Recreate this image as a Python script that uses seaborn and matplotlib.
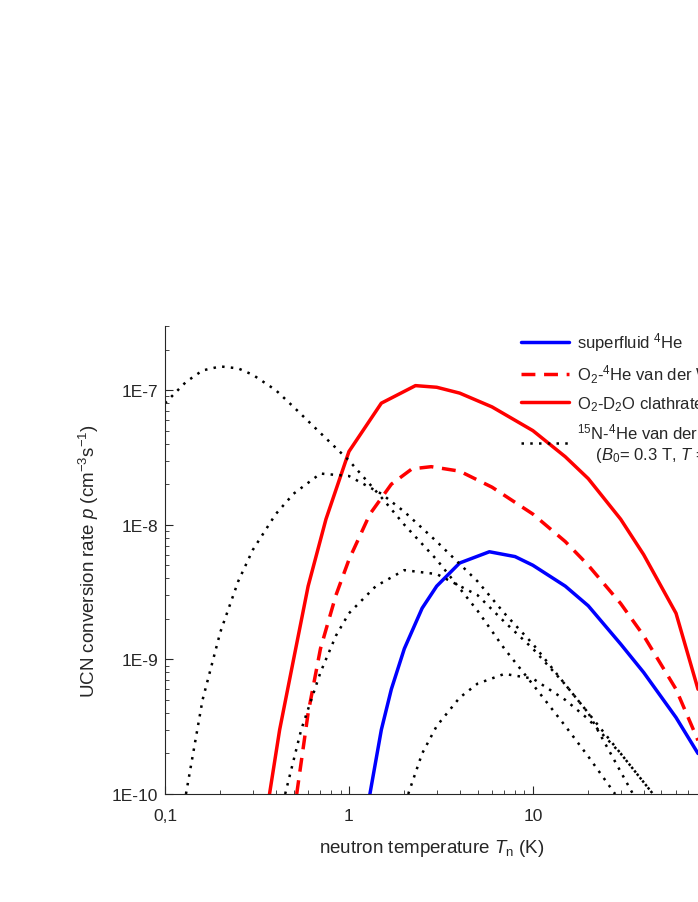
import numpy as np
import matplotlib
matplotlib.use("Agg")
import matplotlib.pyplot as plt
import seaborn as sns

sns.set_style("ticks")
plt.rcParams['font.family'] = ['Liberation Sans', 'DejaVu Sans']
plt.rcParams['mathtext.fontset'] = 'custom'
plt.rcParams['mathtext.rm'] = 'Liberation Sans'
plt.rcParams['mathtext.it'] = 'Liberation Sans:italic'

blue_x = [1.3, 1.5, 1.7, 2.0, 2.5, 3.0, 4.0, 5.8, 8.0, 10, 15, 20, 30, 40, 60, 79]
blue_y = [1e-10, 3e-10, 6e-10, 1.2e-9, 2.4e-9, 3.5e-9, 5.2e-9, 6.3e-9, 5.8e-9, 5e-9, 3.5e-9, 2.5e-9, 1.3e-9, 8e-10, 3.7e-10, 2e-10]
red_x = [0.37, 0.42, 0.5, 0.6, 0.75, 1.0, 1.5, 2.3, 3.0, 4.0, 6.0, 10, 15, 20, 30, 40, 60, 79]
red_y = [1e-10, 3e-10, 1e-9, 3.5e-9, 1.1e-8, 3.5e-8, 8e-8, 1.08e-7, 1.05e-7, 9.5e-8, 7.5e-8, 5e-8, 3.2e-8, 2.2e-8, 1.1e-8, 6e-9, 2.2e-9, 6e-10]
dash_x = [0.52, 0.6, 0.7, 0.85, 1.0, 1.3, 1.7, 2.2, 2.8, 4.0, 6.0, 10, 15, 20, 30, 40, 60, 79]
dash_y = [1e-10, 4e-10, 1.2e-9, 3e-9, 5.5e-9, 1.2e-8, 2e-8, 2.6e-8, 2.7e-8, 2.5e-8, 1.9e-8, 1.2e-8, 7.5e-9, 5e-9, 2.6e-9, 1.5e-9, 6e-10, 2.5e-10]
d1_x = [0.1, 0.13, 0.16, 0.2, 0.25, 0.3, 0.4, 0.5, 0.7, 1.0, 1.5, 2.0, 3.0, 5.0, 7.0, 10, 15, 20, 28]
d1_y = [8e-8, 1.15e-7, 1.4e-7, 1.5e-7, 1.45e-7, 1.3e-7, 1e-7, 7.5e-8, 4.8e-8, 3e-8, 1.6e-8, 1e-8, 5.5e-9, 2.3e-9, 1.2e-9, 6.5e-10, 3.2e-10, 1.9e-10, 1e-10]
d2_x = [0.13, 0.16, 0.2, 0.25, 0.3, 0.4, 0.5, 0.7, 1.0, 1.5, 2.0, 3.0, 5.0, 7.0, 10, 15, 20, 35]
d2_y = [1e-10, 5e-10, 1.6e-9, 3.8e-9, 6.5e-9, 1.2e-8, 1.7e-8, 2.4e-8, 2.3e-8, 1.7e-8, 1.25e-8, 7.5e-9, 3.8e-9, 2.2e-9, 1.3e-9, 6.5e-10, 4e-10, 1e-10]
d3_x = [0.45, 0.55, 0.7, 0.85, 1.0, 1.4, 2.0, 3.0, 5.0, 7.0, 10, 15, 20, 30, 45]
d3_y = [1e-10, 3e-10, 8e-10, 1.5e-9, 2.2e-9, 3.5e-9, 4.6e-9, 4.3e-9, 3e-9, 1.9e-9, 1.2e-9, 6.5e-10, 4e-10, 2e-10, 1e-10]
d4_x = [2.1, 2.5, 3.0, 4.0, 5.0, 7.0, 10, 15, 20, 30, 45]
d4_y = [1e-10, 2e-10, 3.2e-10, 5.2e-10, 6.6e-10, 7.8e-10, 7.2e-10, 5e-10, 3.6e-10, 2e-10, 1e-10]

labels = ["superfluid $^4$He", "O$_2$-$^4$He van der Waals", "O$_2$-D$_2$O clathrate",
          "$^{15}$N-$^4$He van der Waals\n    ($B_0$= 0.3 T, $T$ = 1 K)"]

fig = plt.figure(figsize=(6.98, 9.03), dpi=100)
ax = fig.add_axes([0.2364, 0.1196, 0.7636, 0.5184])
sns.lineplot(x=blue_x, y=blue_y, ax=ax, color="#0000ff", lw=2.5, label=labels[0])
sns.lineplot(x=dash_x, y=dash_y, ax=ax, color="#ff0000", lw=2.5, ls=(0, (4, 2.5)), label=labels[1])
sns.lineplot(x=red_x, y=red_y, ax=ax, color="#ff0000", lw=2.5, label=labels[2])
for i, (xs, ys) in enumerate([(d1_x, d1_y), (d2_x, d2_y), (d3_x, d3_y), (d4_x, d4_y)]):
    sns.lineplot(x=xs, y=ys, ax=ax, color="black", lw=1.8, ls=(0, (1, 2.5)),
                 label=labels[3] if i == 0 else None)
ax.set_xscale("log"); ax.set_yscale("log")
ax.set_xlim(0.1, 79); ax.set_ylim(1e-10, 3e-7)
ax.set_xticks([0.1, 1, 10]); ax.set_xticklabels(["0,1", "1", "10"])
ax.set_yticks([1e-10, 1e-9, 1e-8, 1e-7]); ax.set_yticklabels(["1E-10", "1E-9", "1E-8", "1E-7"])
ax.tick_params(which="both", direction="in", labelsize=12.5)
ax.tick_params(which="major", length=6)
ax.tick_params(which="minor", length=3)
ax.tick_params(axis="x", which="major", pad=10)
ax.tick_params(axis="y", which="major", pad=5)
for s in ["top", "right"]:
    ax.spines[s].set_visible(False)
ax.set_xlabel("neutron temperature $T_\\mathrm{n}$ (K)", fontsize=13.5, labelpad=10)
ax.set_ylabel("UCN conversion rate $p$ (cm$^{-3}$s$^{-1}$)", fontsize=13.5, labelpad=8)
ax.legend(loc="upper left", bbox_to_anchor=(0.655, 1.005), frameon=False, fontsize=12,
          handlelength=2.9, handletextpad=0.5, labelspacing=0.55, borderaxespad=0)
fig.savefig("out.png", dpi=100)
